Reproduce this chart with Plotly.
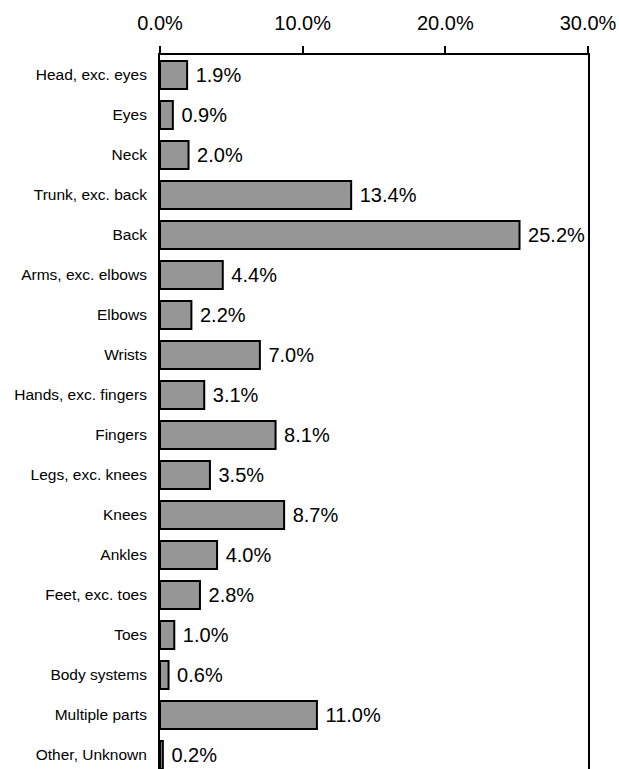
import plotly.graph_objects as go

categories = ["Head, exc. eyes", "Eyes", "Neck", "Trunk, exc. back", "Back",
              "Arms, exc. elbows", "Elbows", "Wrists", "Hands, exc. fingers",
              "Fingers", "Legs, exc. knees", "Knees", "Ankles", "Feet, exc. toes",
              "Toes", "Body systems", "Multiple parts", "Other, Unknown"]
values = [1.9, 0.9, 2.0, 13.4, 25.2, 4.4, 2.2, 7.0, 3.1, 8.1, 3.5, 8.7, 4.0,
          2.8, 1.0, 0.6, 11.0, 0.2]
x_ticks = [0, 10, 20, 30]
x_ticktext = ["0.0%", "10.0%", "20.0%", "30.0%"]

FONT = "Liberation Sans, Arial, sans-serif"

fig = go.Figure(go.Bar(
    y=categories,
    x=values,
    orientation="h",
    marker=dict(color="#969696", line=dict(color="black", width=2)),
    text=["\u00a0" + f"{v:.1f}%" for v in values],
    textposition="outside",
    textfont=dict(family=FONT, size=20, color="black"),
    constraintext="none",
    cliponaxis=False,
))

fig.update_layout(
    width=619, height=769,
    margin=dict(l=160, r=31, t=55, b=0),
    plot_bgcolor="white", paper_bgcolor="white",
    bargap=0.3,
    showlegend=False,
    font=dict(family=FONT, color="black"),
)
fig.update_xaxes(
    side="top", range=[0, 30], tickvals=x_ticks, ticktext=x_ticktext,
    ticks="outside", ticklen=7, tickwidth=1.5, tickcolor="black",
    showline=True, linewidth=2, linecolor="black",
    showgrid=False, zeroline=False,
    tickfont=dict(family=FONT, size=20, color="black"),
    ticklabelstandoff=8,
)
fig.update_yaxes(
    type="category", categoryorder="array", categoryarray=categories,
    range=[17.35, -0.5],
    showline=True, linewidth=2, linecolor="black", mirror=True,
    showgrid=False, zeroline=False, ticks="",
    tickfont=dict(family=FONT, size=15.5, color="black"),
    ticklabelstandoff=8,
)

fig.write_html("out.html")
